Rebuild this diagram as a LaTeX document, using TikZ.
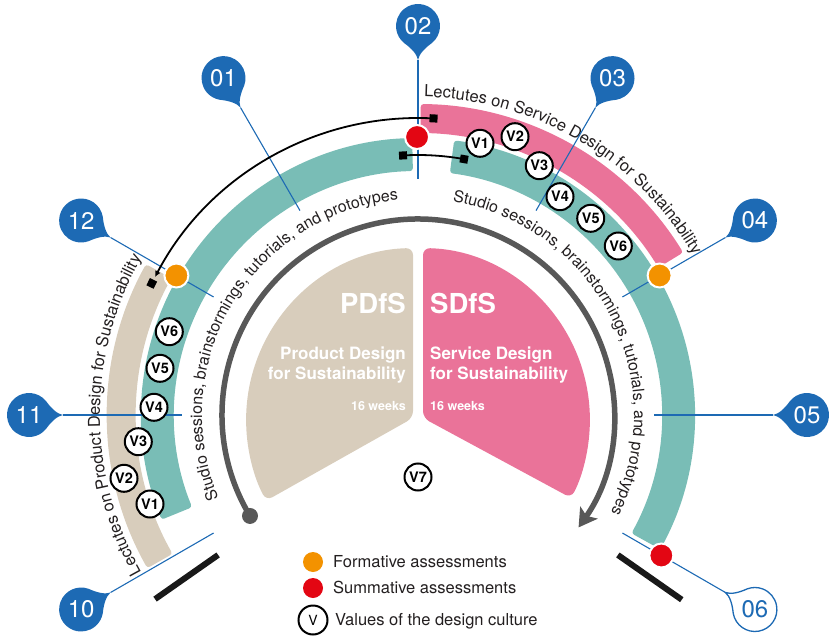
\documentclass[tikz,border=0pt]{standalone}
\usepackage{fontspec}
\setmainfont{TeX Gyre Heros}
\usetikzlibrary{decorations.text,arrows.meta,calc}

\definecolor{tealband}{HTML}{79BDB6}
\definecolor{pinkband}{HTML}{EA7399}
\definecolor{beigeband}{HTML}{D8CDBC}
\definecolor{pinblue}{HTML}{1D6AB4}
\definecolor{arcgray}{HTML}{585858}
\definecolor{formorange}{HTML}{F39200}
\definecolor{summred}{HTML}{E30613}
\definecolor{inktext}{HTML}{231F20}

% annular sector: colour, start angle, end angle, outer radius, inner radius
\newcommand{\annulusband}[5]{%
  \fill[#1, rounded corners=3pt] ($(C)+(#2:#4)$) arc[start angle=#2, end angle=#3, radius=#4]
    -- ($(C)+(#3:#5)$) arc[start angle=#3, end angle=#2, radius=#5] -- cycle;}

\begin{document}
\begin{tikzpicture}[x=1pt,y=1pt,
  blueline/.style={draw=pinblue, line width=1.1pt},
  pinsolid/.style={fill=pinblue},
  pinhollow/.style={fill=white, draw=pinblue, line width=1.3pt},
  pinlabel/.style={inner sep=0pt, font=\fontsize{24}{24}\selectfont},
  vmark/.style={circle, draw=black, line width=2pt, fill=white, minimum size=27pt,
    inner sep=0pt, font=\bfseries\fontsize{14.5}{14.5}\selectfont},
  assess/.style={circle, draw=white, line width=2pt, minimum size=24pt, inner sep=0pt},
  sqend/.style={rectangle, fill=black, minimum size=8pt, inner sep=0pt},
  pietitle/.style={text=white, inner sep=0pt, font=\bfseries\fontsize{27.5}{27.5}\selectfont},
  piesub/.style={text=white, inner sep=0pt, font=\bfseries\fontsize{17}{17}\selectfont},
  pieweeks/.style={text=white, inner sep=0pt, font=\bfseries\fontsize{12.5}{12.5}\selectfont},
  legendtext/.style={text=inktext, inner sep=0pt, anchor=base west, font=\fontsize{16.5}{16.5}\selectfont},
  bar/.style={draw=black!90, line width=6pt}
]
\useasboundingbox (0,0) rectangle (829,-636);
\coordinate (C) at (418,-415);
\coordinate (P) at (418,-420);

% ---- course bands ----
\annulusband{beigeband}{151}{209.5}{311pt}{282pt}
\annulusband{pinkband}{89.5}{31.5}{311pt}{282pt}
\annulusband{tealband}{91.2}{202.2}{277pt}{244pt}
\annulusband{tealband}{82.5}{-29}{277pt}{244pt}

% ---- central pie ----
\fill[beigeband, rounded corners=7pt] (413,-418) -- (413,-248)
  arc[start angle=91.7, end angle=208, radius=172pt] -- cycle;
\fill[pinkband, rounded corners=7pt] (423,-418) -- (423,-248)
  arc[start angle=88.3, end angle=-27, radius=172pt] -- cycle;

\node[pietitle, anchor=base east] (pdfs) at (406,-313) {PDfS};
\node[pietitle, anchor=base west] (sdfs) at (430,-313) {SDfS};
\node[piesub, anchor=base east] (pdA) at (406,-359) {Product Design};
\node[piesub, anchor=base east] (pdB) at (406,-379) {for Sustainability};
\node[piesub, anchor=base west] (sdA) at (430,-359) {Service Design};
\node[piesub, anchor=base west] (sdB) at (430,-379) {for Sustainability};
\node[pieweeks, anchor=base east] (pdW) at (406,-410) {16 weeks};
\node[pieweeks, anchor=base west] (sdW) at (430,-410) {16 weeks};

% ---- timeline arrow ----
\node[circle, fill=arcgray, minimum size=16pt, inner sep=0pt] (gstart) at ($(C)+(211:196pt)$) {};
\draw[arcgray, line width=5.5pt, -{Stealth[length=18pt,width=21pt,inset=4pt]}]
  (gstart.center) arc[start angle=211, end angle=-35, radius=196pt];

% ---- start / end bars ----
\coordinate (barLa) at ($(C)+(215:244pt)$);
\coordinate (barLb) at ($(C)+(215:321pt)$);
\coordinate (barRa) at ($(C)+(-35:244pt)$);
\coordinate (barRb) at ($(C)+(-35:322pt)$);
\draw[bar] (barLa) -- (barLb);
\draw[bar] (barRa) -- (barRb);

% ---- curved labels ----
\path[decorate, decoration={text along path, text align=center, text color=inktext,
  text={|\fontsize{16}{16}\selectfont|Studio sessions, brainstormings, tutorials, and prototypes}}]
  ($(C)+(225:216pt)$) arc[start angle=225, end angle=73, radius=216pt];
\path[decorate, decoration={text along path, text align=center, text color=inktext,
  text={|\fontsize{16}{16}\selectfont|Studio sessions, brainstormings, tutorials, and prototypes}}]
  ($(C)+(105:216pt)$) arc[start angle=105, end angle=-51, radius=216pt];
\path[decorate, decoration={text along path, text align=center, text color=inktext,
  text={|\fontsize{16.5}{16.5}\selectfont|Lectutes on Service Design for Sustainability}}]
  ($(C)+(120:318pt)$) arc[start angle=120, end angle=-1, radius=318pt];
\path[decorate, decoration={text along path, text align=center, text color=inktext,
  text={|\fontsize{16.5}{16.5}\selectfont|Lectutes on Product Design for Sustainability}}]
  ($(C)+(240:318pt)$) arc[start angle=240, end angle=120, radius=318pt];

% ---- month pins and their leader lines ----
\foreach \ang/\lab/\sty/\ink in {120/01/pinsolid/white, 90/02/pinsolid/white,
    60/03/pinsolid/white, 30/04/pinsolid/white, 0/05/pinsolid/white,
    -30/06/pinhollow/pinblue, 210/10/pinsolid/white, 180/11/pinsolid/white,
    150/12/pinsolid/white}{
  \coordinate (tip\lab) at ($(C)+(\ang:355pt)$);
  \coordinate (end\lab) at ($(C)+(\ang:236pt)$);
  \draw[blueline] (tip\lab) -- (end\lab);
  \begin{scope}[shift={($(C)+(\ang:389pt)$)}, rotate=\ang+180]
    \path[\sty] (34,0) .. controls (28,1) and (22,7) .. (40:22)
      arc[start angle=40, end angle=320, radius=22pt]
      .. controls (22,-7) and (28,-1) .. (34,0) -- cycle;
  \end{scope}
  \node[pinlabel, text=\ink] (pin\lab) at ($(C)+(\ang:389pt)$) {\lab};
}

% ---- assessments ----
\node[assess, fill=formorange] (fa1) at ($(C)+(150:279pt)$) {};
\node[assess, fill=formorange] (fa2) at ($(C)+(30:279pt)$) {};
\node[assess, fill=summred] (sa1) at ($(C)+(90.2:278pt)$) {};
\node[assess, fill=summred] (sa2) at ($(C)+(-30:281pt)$) {};

% ---- values of the design culture ----
\node[vmark] (rv1) at (480,-143.3) {V1};
\node[vmark] (rv2) at (515,-136.7) {V2};
\node[vmark] (rv3) at (539.3,-165.7) {V3};
\node[vmark] (rv4) at (560,-196.7) {V4};
\node[vmark] (rv5) at (590.7,-218.3) {V5};
\node[vmark] (rv6) at (618.3,-246) {V6};
\node[vmark] (lv6) at (169.3,-331.7) {V6};
\node[vmark] (lv5) at (160,-368.3) {V5};
\node[vmark] (lv4) at (154,-407.3) {V4};
\node[vmark] (lv3) at (138.3,-441.7) {V3};
\node[vmark] (lv2) at (124,-478.3) {V2};
\node[vmark] (lv1) at (150,-504) {V1};
\node[vmark] (v7) at (418,-477) {V7};

% ---- links between the two courses ----
\node[sqend, rotate=87] (sqA) at ($(C)+(87:297pt)$) {};
\node[sqend, rotate=153.7] (sqB) at ($(C)+(153.7:297pt)$) {};
\draw[black, line width=1.8pt, -{Latex[length=6pt,width=6pt]}]
  (sqA.center) arc[start angle=87, end angle=152.3, radius=297pt];
\node[sqend, rotate=93.3] (sqC) at ($(C)+(93.3:260pt)$) {};
\node[sqend, rotate=79.8] (sqD) at ($(C)+(79.8:260pt)$) {};
\draw[black, line width=1.8pt] (sqC.center) arc[start angle=93.3, end angle=79.8, radius=260pt];

% ---- legend ----
\node[assess, fill=formorange, draw=none, minimum size=20pt] (lgF) at (313,-562) {};
\node[assess, fill=summred, draw=none, minimum size=20pt] (lgS) at (313,-588) {};
\node[circle, draw=black, line width=2pt, minimum size=29pt, inner sep=0pt,
  font=\fontsize{14}{14}\selectfont] (lgV) at (313,-620) {V};
\node[legendtext] (lgFt) at (333,-567) {Formative assessments};
\node[legendtext] (lgSt) at (333,-593) {Summative assessments};
\node[legendtext] (lgVt) at (335,-625) {Values of the design culture};
\end{tikzpicture}
\end{document}
